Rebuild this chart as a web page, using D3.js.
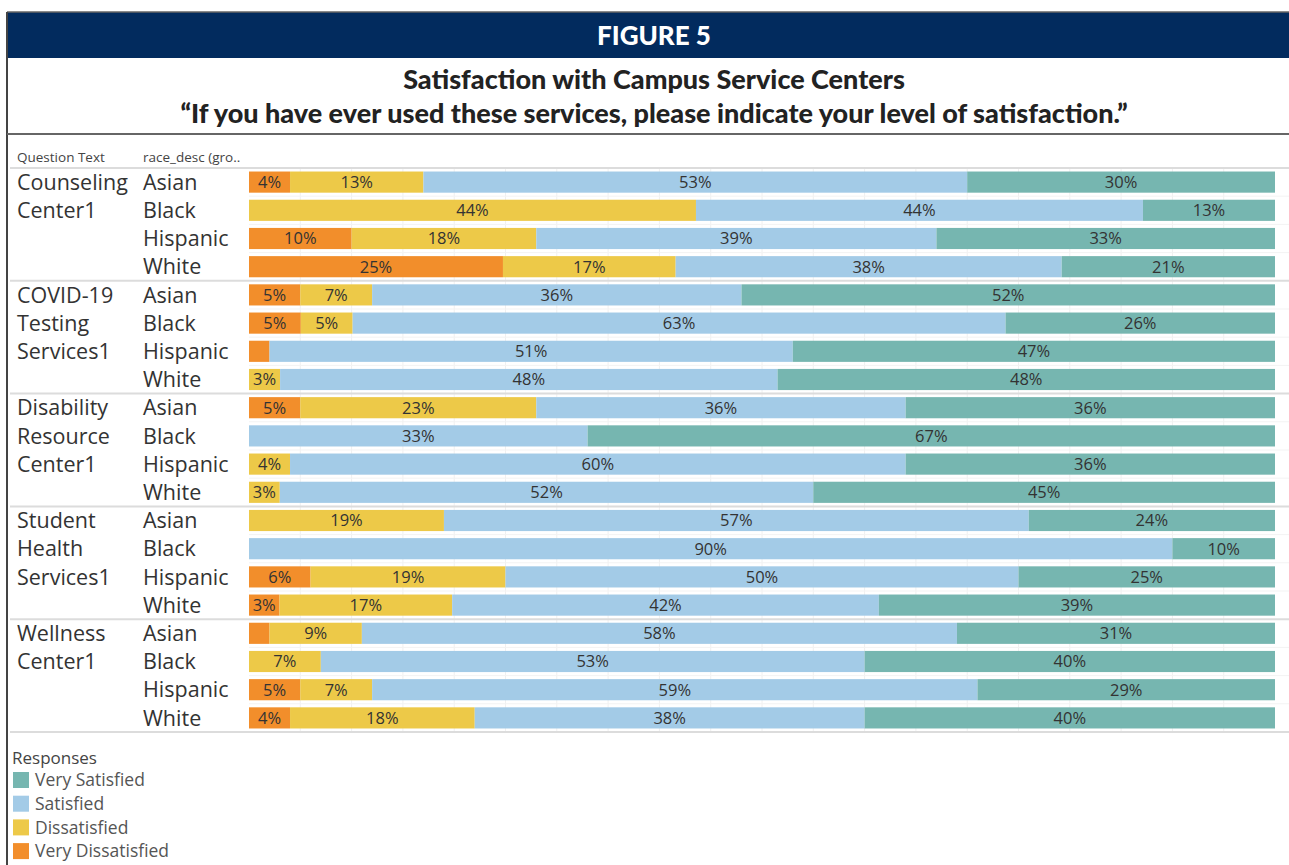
<!DOCTYPE html>
<html>
<head>
<meta charset="utf-8">
<script src="https://cdn.jsdelivr.net/npm/d3@7/dist/d3.min.js"></script>
<style>
  html, body { margin: 0; padding: 0; background: #fff; }
  svg { display: block; }
</style>
</head>
<body>
<svg id="chart" width="1289" height="865"></svg>
<script>
// Survey responses: satisfaction with campus service centers by race group
const services = [
  ["Counseling", "Center1"],
  ["COVID-19", "Testing", "Services1"],
  ["Disability", "Resource", "Center1"],
  ["Student", "Health", "Services1"],
  ["Wellness", "Center1"]
];
const races = ["Asian", "Black", "Hispanic", "White"];
const responses = ["Very Dissatisfied", "Dissatisfied", "Satisfied", "Very Satisfied"];
const legendOrder = ["Very Satisfied", "Satisfied", "Dissatisfied", "Very Dissatisfied"];

// Percentages per row, ordered Very Dissatisfied, Dissatisfied, Satisfied, Very Satisfied
const veryDissatisfied = [4, 0, 10, 25,  5, 5, 2, 0,  5, 0, 0, 0,  0, 0, 6, 3,  2, 0, 5, 4];
const dissatisfied     = [13, 44, 18, 17, 7, 5, 0, 3,  23, 0, 4, 3,  19, 0, 19, 17,  9, 7, 7, 18];
const satisfied        = [53, 44, 39, 38, 36, 63, 51, 48,  36, 33, 60, 52,  57, 90, 50, 42,  58, 53, 59, 38];
const verySatisfied    = [30, 13, 33, 21, 52, 26, 47, 48,  36, 67, 36, 45,  24, 10, 25, 39,  31, 40, 29, 40];

const colors = {
  "Very Satisfied": "#76b6b0",
  "Satisfied": "#a3cbe7",
  "Dissatisfied": "#edc948",
  "Very Dissatisfied": "#f28e2b"
};

const W = 1289, H = 865;
const svg = d3.select("#chart");
const FONT = "'Open Sans', 'Noto Sans', sans-serif";
const TITLE_FONT = "Lato, 'Open Sans', sans-serif";

// Frame and header band
svg.append("rect").attr("x", 7).attr("y", 12).attr("width", W - 7).attr("height", 46).attr("fill", "#022b5e");
svg.append("line").attr("x1", 7).attr("x2", W).attr("y1", 12).attr("y2", 12).attr("stroke", "#666").attr("stroke-width", 1.5);
svg.append("line").attr("x1", 7).attr("x2", 7).attr("y1", 12).attr("y2", H).attr("stroke", "#444").attr("stroke-width", 2);
svg.append("line").attr("x1", 7).attr("x2", W).attr("y1", 134).attr("y2", 134).attr("stroke", "#666").attr("stroke-width", 2);

svg.append("text").attr("x", 654).attr("y", 45).attr("text-anchor", "middle")
  .attr("fill", "#fff").attr("font-family", TITLE_FONT).attr("font-weight", 900).attr("font-size", 26)
  .text("FIGURE 5");
svg.append("text").attr("x", 654).attr("y", 89).attr("text-anchor", "middle")
  .attr("fill", "#222").attr("font-family", TITLE_FONT).attr("font-weight", 900).attr("font-size", 27)
  .text("Satisfaction with Campus Service Centers");
svg.append("text").attr("x", 654).attr("y", 123).attr("text-anchor", "middle")
  .attr("fill", "#222").attr("font-family", TITLE_FONT).attr("font-weight", 900).attr("font-size", 27)
  .text("\u201CIf you have ever used these services, please indicate your level of satisfaction.\u201D");

// Build row records
const rows = [];
services.forEach((svc, si) => {
  races.forEach((race, ri) => {
    const i = si * races.length + ri;
    const vals = [veryDissatisfied[i], dissatisfied[i], satisfied[i], verySatisfied[i]];
    rows.push({ id: i, service: si, race, vals, total: d3.sum(vals) });
  });
});

const yTop = 168, yBottom = 732;
const xLeft = 249, xRight = 1275;
const y = d3.scaleBand().domain(rows.map(r => r.id)).range([yTop, yBottom]).paddingInner(0.25).paddingOuter(0.125);
const x = d3.scaleLinear().domain([0, 100]).range([xLeft, xRight]);

// Column headers
svg.append("text").attr("x", 17).attr("y", 162).attr("font-family", FONT).attr("font-size", 13.5).attr("fill", "#444").text("Question Text");
svg.append("text").attr("x", 143).attr("y", 162).attr("font-family", FONT).attr("font-size", 13.5).attr("fill", "#444").text("race_desc (gro..");

// Vertical gridlines every 5%
const grid = svg.append("g");
grid.selectAll("line").data(d3.range(5, 100, 5)).join("line")
  .attr("x1", d => x(d)).attr("x2", d => x(d)).attr("y1", yTop).attr("y2", yBottom)
  .attr("stroke", "#f0f0f0").attr("stroke-width", 1);

// Horizontal separators between rows (faint) and groups (stronger)
const step = y.step();
svg.append("g").selectAll("line").data(d3.range(1, rows.length).filter(k => k % 4 !== 0)).join("line")
  .attr("x1", xLeft).attr("x2", W).attr("y1", k => yTop + k * step).attr("y2", k => yTop + k * step)
  .attr("stroke", "#f3f3f3").attr("stroke-width", 1);
svg.append("g").selectAll("line").data(d3.range(0, rows.length + 1, 4)).join("line")
  .attr("x1", 10).attr("x2", W).attr("y1", k => yTop + k * step).attr("y2", k => yTop + k * step)
  .attr("stroke", "#dcdcdc").attr("stroke-width", 2);

// Stacked bars (each row normalised to its own total)
const segs = [];
rows.forEach(r => {
  let acc = 0;
  r.vals.forEach((v, k) => {
    const s0 = acc / r.total * 100;
    acc += v;
    const s1 = acc / r.total * 100;
    if (v > 0) segs.push({ row: r, key: responses[k], v, s0, s1 });
  });
});

const barG = svg.append("g");
barG.selectAll("rect").data(segs).join("rect")
  .attr("x", d => x(d.s0)).attr("width", d => x(d.s1) - x(d.s0))
  .attr("y", d => y(d.row.id)).attr("height", y.bandwidth())
  .attr("fill", d => colors[d.key]);

// Segment labels (skipped where the segment is too narrow)
barG.selectAll("text").data(segs.filter(d => x(d.s1) - x(d.s0) >= 26)).join("text")
  .attr("x", d => (x(d.s0) + x(d.s1)) / 2)
  .attr("y", d => y(d.row.id) + y.bandwidth() / 2)
  .attr("dy", "0.36em").attr("text-anchor", "middle")
  .attr("font-family", FONT).attr("font-size", 16.5).attr("fill", "#333")
  .text(d => d.v + "%");

// Row labels: service (wrapped across rows) and race
const labelG = svg.append("g").attr("font-family", FONT).attr("font-size", 21.5).attr("fill", "#333");
services.forEach((lines, si) => {
  lines.forEach((ln, li) => {
    const id = si * races.length + li;
    labelG.append("text").attr("x", 17).attr("y", y(id) + y.bandwidth() / 2).attr("dy", "0.36em").text(ln);
  });
});
labelG.selectAll("text.race").data(rows).join("text").attr("class", "race")
  .attr("x", 143).attr("y", d => y(d.id) + y.bandwidth() / 2).attr("dy", "0.36em").text(d => d.race);

// Legend
const lg = svg.append("g").attr("font-family", FONT).attr("fill", "#444");
lg.append("text").attr("x", 12).attr("y", 764).attr("font-size", 17).text("Responses");
const items = lg.selectAll("g.item").data(legendOrder).join("g").attr("class", "item")
  .attr("transform", (d, i) => `translate(13, ${772 + i * 23.7})`);
items.append("rect").attr("width", 16).attr("height", 16).attr("fill", d => colors[d]);
items.append("text").attr("x", 22).attr("y", 8).attr("dy", "0.36em").attr("font-size", 17.5).attr("fill", "#555").text(d => d);
</script>
</body>
</html>
